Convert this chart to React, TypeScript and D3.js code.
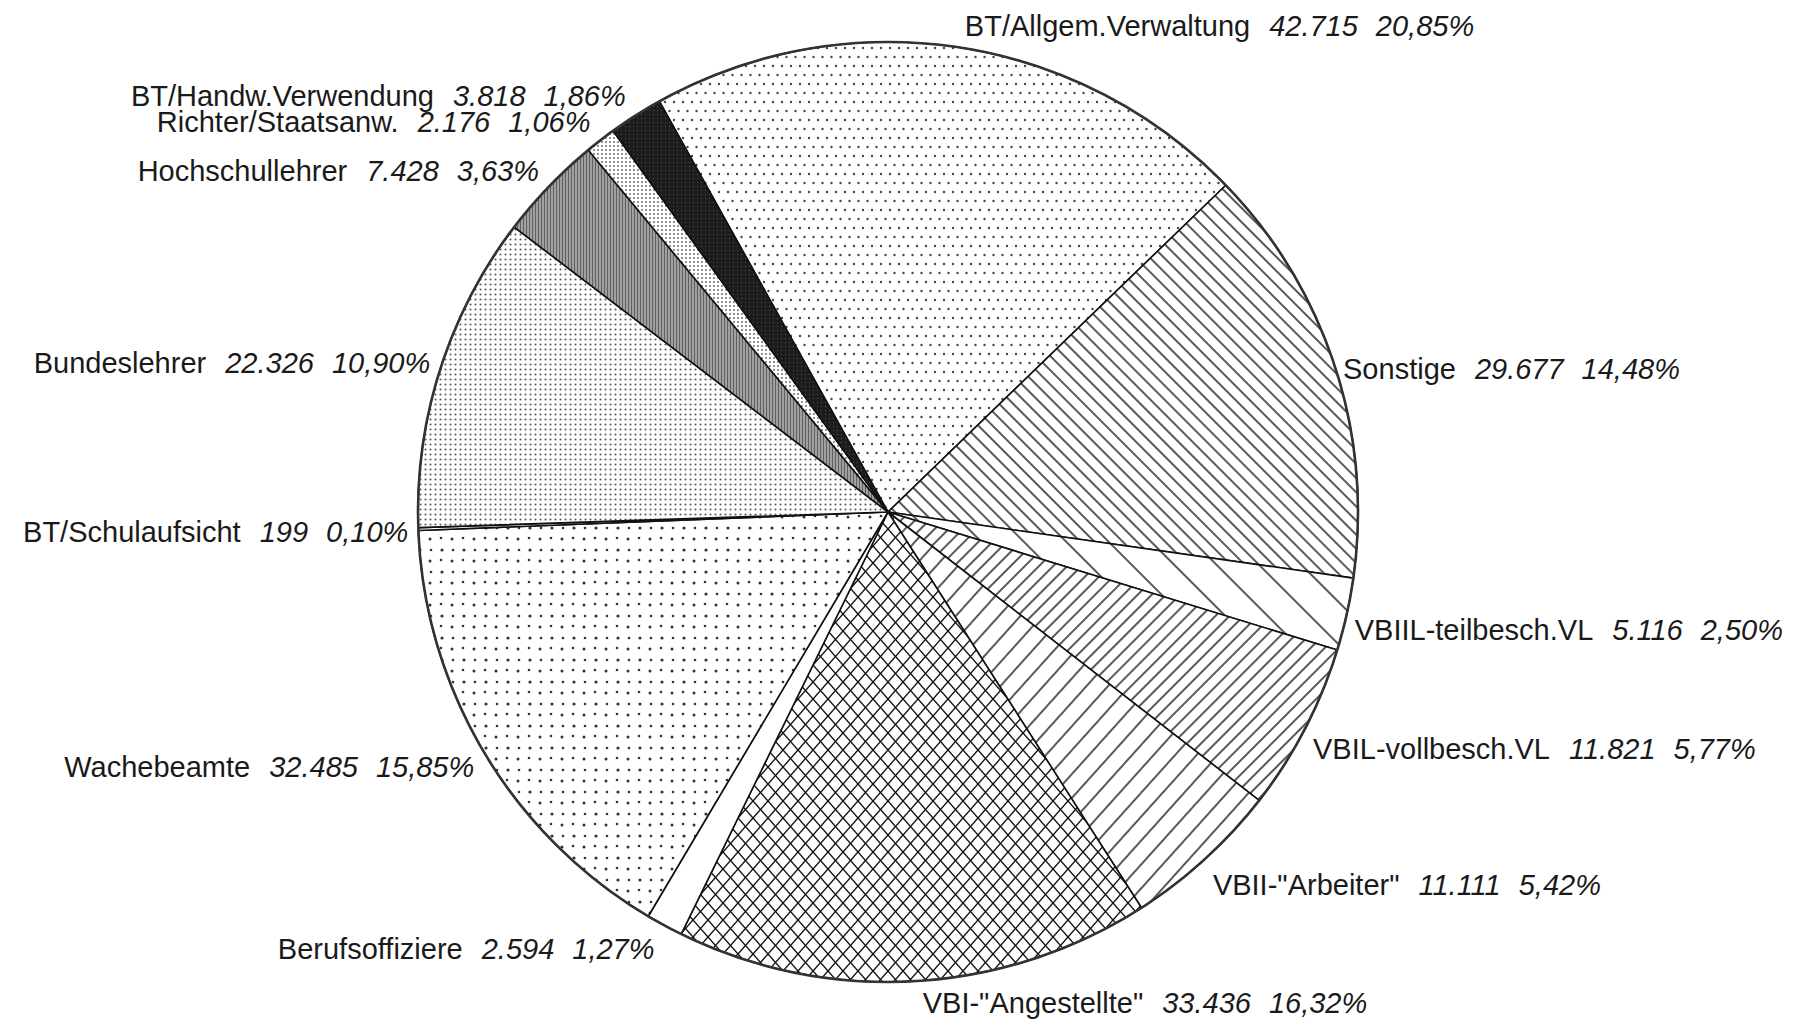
import React from "react";
import * as d3 from "d3";

// Personalstand nach Gruppen (Anzahl), Reihenfolge im Uhrzeigersinn
const categories = [
  "BT/Allgem.Verwaltung",
  "Sonstige",
  "VBIIL-teilbesch.VL",
  "VBIL-vollbesch.VL",
  'VBII-"Arbeiter"',
  'VBI-"Angestellte"',
  "Berufsoffiziere",
  "Wachebeamte",
  "BT/Schulaufsicht",
  "Bundeslehrer",
  "Hochschullehrer",
  "Richter/Staatsanw.",
  "BT/Handw.Verwendung",
];
const counts = [42715, 29677, 5116, 11821, 11111, 33436, 2594, 32485, 199, 22326, 7428, 2176, 3818];

// fill pattern per slice
const fillIds = [
  "p-allgem",
  "p-sonstige",
  "p-teil",
  "p-voll",
  "p-arbeiter",
  "p-angest",
  "p-white",
  "p-wache",
  "p-white",
  "p-bundes",
  "p-hoch",
  "p-richter",
  "p-handw",
];

const width = 1798;
const height = 1023;
const cx = 888;
const cy = 512;
const radius = 470;
const startDeg = -29.1;

const de = d3.formatLocale({ decimal: ",", thousands: ".", grouping: [3], currency: ["", " €"] });
const fmtCount = de.format(",");
const fmtPct = de.format(".2f");

export default function App() {
  const total = d3.sum(counts);
  const start = (startDeg * Math.PI) / 180;
  const pie = d3
    .pie<number>()
    .sort(null)
    .value((d) => d)
    .startAngle(start)
    .endAngle(start + 2 * Math.PI);
  const arcs = pie(counts);
  const arc = d3.arc<d3.PieArcDatum<number>>().innerRadius(0).outerRadius(radius);

  return (
    <svg
      width={width}
      height={height}
      style={{ position: "absolute", left: 0, top: 0, background: "#fff" }}
      fontFamily="'Liberation Sans', Arial, sans-serif"
    >
      <defs>
        <pattern id="p-allgem" width="9" height="18" patternUnits="userSpaceOnUse">
          <rect width="9" height="18" fill="#fff" />
          <circle cx="2" cy="4" r="1.2" fill="#444" />
          <circle cx="6.5" cy="13" r="1.2" fill="#444" />
        </pattern>
        <pattern id="p-sonstige" width="10" height="10" patternUnits="userSpaceOnUse" patternTransform="rotate(-45)">
          <rect width="10" height="10" fill="#fff" />
          <line x1="5" y1="0" x2="5" y2="10" stroke="#111" strokeWidth="1.4" />
        </pattern>
        <pattern id="p-teil" width="30" height="10" patternUnits="userSpaceOnUse" patternTransform="rotate(-45)">
          <rect width="30" height="10" fill="#fff" />
          <line x1="15" y1="0" x2="15" y2="10" stroke="#111" strokeWidth="1.4" />
        </pattern>
        <pattern id="p-voll" width="10" height="10" patternUnits="userSpaceOnUse" patternTransform="rotate(45)">
          <rect width="10" height="10" fill="#fff" />
          <line x1="5" y1="0" x2="5" y2="10" stroke="#111" strokeWidth="1.4" />
        </pattern>
        <pattern id="p-arbeiter" width="16" height="10" patternUnits="userSpaceOnUse" patternTransform="rotate(42)">
          <rect width="16" height="10" fill="#fff" />
          <line x1="8" y1="0" x2="8" y2="10" stroke="#111" strokeWidth="1.4" />
        </pattern>
        <pattern id="p-angest" width="15" height="17" patternUnits="userSpaceOnUse">
          <rect width="15" height="17" fill="#fff" />
          <line x1="0" y1="0" x2="15" y2="17" stroke="#111" strokeWidth="1.4" />
          <line x1="15" y1="0" x2="0" y2="17" stroke="#111" strokeWidth="1.4" />
        </pattern>
        <pattern id="p-white" width="10" height="10" patternUnits="userSpaceOnUse">
          <rect width="10" height="10" fill="#fff" />
        </pattern>
        <pattern id="p-wache" width="22" height="22" patternUnits="userSpaceOnUse">
          <rect width="22" height="22" fill="#fff" />
          <circle cx="4" cy="5" r="1.5" fill="#333" />
          <circle cx="15" cy="4" r="1.3" fill="#333" />
          <circle cx="5" cy="16" r="1.3" fill="#333" />
          <circle cx="16" cy="16" r="1.6" fill="#333" />
        </pattern>
        <pattern id="p-bundes" width="5" height="5" patternUnits="userSpaceOnUse">
          <rect width="5" height="5" fill="#fff" />
          <circle cx="2.5" cy="2.5" r="1.05" fill="#5a5a5a" />
        </pattern>
        <pattern id="p-hoch" width="3" height="3" patternUnits="userSpaceOnUse">
          <rect width="3" height="3" fill="#a0a0a0" />
          <rect x="1" width="1" height="3" fill="#606060" />
        </pattern>
        <pattern id="p-richter" width="4" height="4" patternUnits="userSpaceOnUse">
          <rect width="4" height="4" fill="#fff" />
          <circle cx="2" cy="2" r="0.95" fill="#666" />
        </pattern>
        <pattern id="p-handw" width="4" height="4" patternUnits="userSpaceOnUse">
          <rect width="4" height="4" fill="#1c1c1c" />
          <rect x="1" y="2" width="1" height="1" fill="#555" />
        </pattern>
      </defs>

      <g transform={`translate(${cx},${cy})`}>
        {arcs.map((a, i) => (
          <path
            key={categories[i]}
            d={arc(a) || ""}
            fill={`url(#${fillIds[i]})`}
            stroke="#111"
            strokeWidth={1.6}
            strokeLinejoin="round"
          />
        ))}
        <circle r={radius} fill="none" stroke="#333" strokeWidth={2.6} />
      </g>

      <g fontSize={29} fill="#1a1a1a">
        {arcs.map((a, i) => {
          const mid = (a.startAngle + a.endAngle) / 2;
          const s = Math.sin(mid);
          const c = Math.cos(mid);
          const px = cx + radius * s;
          const py = cy - radius * c;
          const right = s >= 0;
          const x = right ? px + 8 : px - 10;
          const y = Math.min(height - 10, py + 12 - 25 * c + 8 * Math.max(0, s));
          return (
            <text key={categories[i]} x={x} y={y} textAnchor={right ? "start" : "end"}>
              <tspan>{categories[i]}</tspan>
              <tspan dx={19} fontStyle="italic">
                {fmtCount(counts[i])}
              </tspan>
              <tspan dx={18} fontStyle="italic">
                {fmtPct((counts[i] / total) * 100) + "%"}
              </tspan>
            </text>
          );
        })}
      </g>
    </svg>
  );
}
